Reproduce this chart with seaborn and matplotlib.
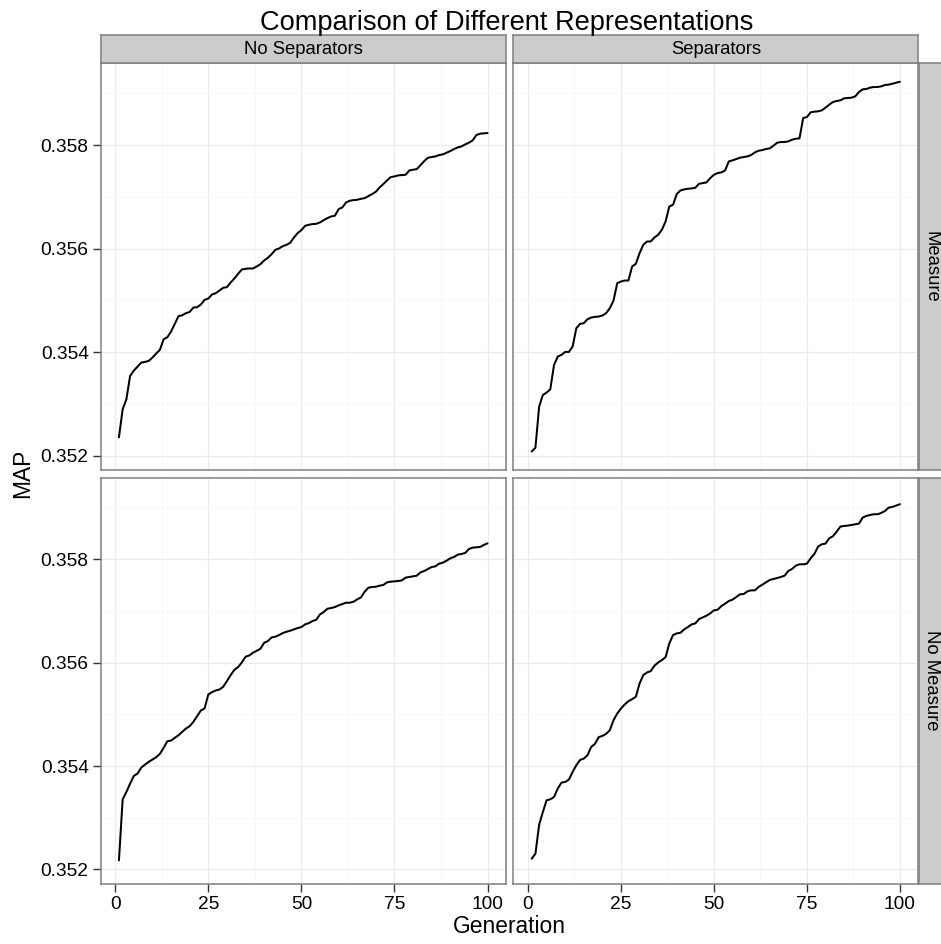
import numpy as np
import pandas as pd
import seaborn as sns
import matplotlib
matplotlib.use("Agg")
import matplotlib.pyplot as plt

# ---- data -------------------------------------------------------------
generation = list(range(1, 101))

map_noSep_measure = [
    0.352354, 0.352896, 0.353089, 0.353540, 0.353643, 0.353720, 0.353798, 0.353811, 0.353830, 0.353895,
    0.353972, 0.354043, 0.354249, 0.354288, 0.354397, 0.354546, 0.354694, 0.354713, 0.354752, 0.354777,
    0.354861, 0.354868, 0.354919, 0.355010, 0.355035, 0.355113, 0.355138, 0.355190, 0.355242, 0.355255,
    0.355345, 0.355422, 0.355512, 0.355596, 0.355609, 0.355616, 0.355616, 0.355654, 0.355699, 0.355770,
    0.355822, 0.355892, 0.355976, 0.356002, 0.356047, 0.356073, 0.356112, 0.356215, 0.356299, 0.356357,
    0.356440, 0.356460, 0.356473, 0.356479, 0.356505, 0.356550, 0.356589, 0.356621, 0.356634, 0.356763,
    0.356795, 0.356891, 0.356924, 0.356937, 0.356943, 0.356962, 0.356975, 0.357014, 0.357053, 0.357098,
    0.357181, 0.357246, 0.357317, 0.357381, 0.357394, 0.357414, 0.357420, 0.357426, 0.357510, 0.357523,
    0.357536, 0.357613, 0.357691, 0.357755, 0.357768, 0.357781, 0.357807, 0.357820, 0.357852, 0.357884,
    0.357923, 0.357955, 0.357974, 0.358013, 0.358045, 0.358090, 0.358193, 0.358219, 0.358226, 0.358232,
]

map_sep_measure = [
    0.352080, 0.352154, 0.352947, 0.353173, 0.353218, 0.353282, 0.353753, 0.353914, 0.353946, 0.354004,
    0.354004, 0.354107, 0.354462, 0.354546, 0.354558, 0.354636, 0.354668, 0.354681, 0.354687, 0.354707,
    0.354752, 0.354848, 0.354997, 0.355332, 0.355364, 0.355383, 0.355383, 0.355654, 0.355706, 0.355912,
    0.356073, 0.356137, 0.356137, 0.356215, 0.356266, 0.356363, 0.356524, 0.356814, 0.356846, 0.357053,
    0.357123, 0.357143, 0.357156, 0.357162, 0.357175, 0.357252, 0.357265, 0.357278, 0.357362, 0.357426,
    0.357459, 0.357472, 0.357510, 0.357684, 0.357704, 0.357729, 0.357755, 0.357768, 0.357781, 0.357807,
    0.357858, 0.357890, 0.357903, 0.357923, 0.357936, 0.357987, 0.358045, 0.358058, 0.358058, 0.358071,
    0.358103, 0.358122, 0.358129, 0.358522, 0.358541, 0.358632, 0.358645, 0.358651, 0.358670, 0.358722,
    0.358780, 0.358831, 0.358851, 0.358864, 0.358902, 0.358909, 0.358915, 0.358941, 0.359025, 0.359076,
    0.359083, 0.359109, 0.359121, 0.359121, 0.359134, 0.359160, 0.359167, 0.359185, 0.359205, 0.359222,
]

map_noSep_noMeasure = [
    0.352174, 0.353356, 0.353498, 0.353660, 0.353808, 0.353854, 0.353970, 0.354028, 0.354080, 0.354125,
    0.354170, 0.354235, 0.354351, 0.354480, 0.354493, 0.354545, 0.354596, 0.354661, 0.354726, 0.354771,
    0.354855, 0.354965, 0.355074, 0.355113, 0.355384, 0.355430, 0.355462, 0.355481, 0.355533, 0.355643,
    0.355759, 0.355862, 0.355914, 0.356004, 0.356114, 0.356140, 0.356192, 0.356230, 0.356269, 0.356385,
    0.356418, 0.356489, 0.356502, 0.356534, 0.356573, 0.356598, 0.356618, 0.356644, 0.356670, 0.356689,
    0.356741, 0.356766, 0.356805, 0.356831, 0.356934, 0.356980, 0.357044, 0.357057, 0.357076, 0.357109,
    0.357135, 0.357160, 0.357160, 0.357180, 0.357225, 0.357264, 0.357374, 0.357451, 0.357464, 0.357470,
    0.357490, 0.357503, 0.357554, 0.357567, 0.357574, 0.357580, 0.357593, 0.357645, 0.357658, 0.357671,
    0.357684, 0.357748, 0.357774, 0.357813, 0.357851, 0.357864, 0.357916, 0.357935, 0.357974, 0.358019,
    0.358045, 0.358090, 0.358103, 0.358123, 0.358200, 0.358226, 0.358232, 0.358239, 0.358278, 0.358310,
]

map_sep_noMeasure = [
    0.352207, 0.352304, 0.352865, 0.353111, 0.353337, 0.353356, 0.353401, 0.353563, 0.353679, 0.353692,
    0.353737, 0.353886, 0.354015, 0.354118, 0.354144, 0.354209, 0.354370, 0.354428, 0.354558, 0.354583,
    0.354622, 0.354693, 0.354887, 0.355016, 0.355113, 0.355191, 0.355255, 0.355294, 0.355339, 0.355597,
    0.355759, 0.355811, 0.355836, 0.355940, 0.356004, 0.356050, 0.356108, 0.356372, 0.356534, 0.356566,
    0.356579, 0.356644, 0.356689, 0.356741, 0.356760, 0.356844, 0.356876, 0.356909, 0.356954, 0.357012,
    0.357025, 0.357096, 0.357141, 0.357193, 0.357219, 0.357270, 0.357322, 0.357328, 0.357380, 0.357399,
    0.357399, 0.357464, 0.357509, 0.357554, 0.357600, 0.357619, 0.357638, 0.357658, 0.357684, 0.357774,
    0.357813, 0.357877, 0.357903, 0.357903, 0.357916, 0.358019, 0.358103, 0.358245, 0.358291, 0.358304,
    0.358407, 0.358446, 0.358536, 0.358633, 0.358646, 0.358652, 0.358665, 0.358678, 0.358691, 0.358807,
    0.358840, 0.358859, 0.358872, 0.358872, 0.358898, 0.358936, 0.359001, 0.359014, 0.359040, 0.359066,
]

col_labels = ["No Separators", "Separators"]
row_labels = ["Measure", "No Measure"]
x_ticks = [0, 25, 50, 75, 100]
y_ticks = [0.352, 0.354, 0.356, 0.358]

series = {
    ("Measure", "No Separators"): map_noSep_measure,
    ("Measure", "Separators"): map_sep_measure,
    ("No Measure", "No Separators"): map_noSep_noMeasure,
    ("No Measure", "Separators"): map_sep_noMeasure,
}

df = pd.concat(
    [pd.DataFrame({"Generation": generation, "MAP": vals,
                   "Measure": r, "Representation": c})
     for (r, c), vals in series.items()],
    ignore_index=True,
)

# ---- theme ------------------------------------------------------------
sns.set_theme(style="white")
plt.rcParams["font.family"] = ["Liberation Sans", "DejaVu Sans"]

W, H = 941, 944
fig = plt.figure(figsize=(W / 100, H / 100), dpi=100)
fig.patch.set_facecolor("white")

BORDER = "#7F7F7F"
STRIP = "#CCCCCC"


def box(x0, y0, x1, y1):
    """Pixel box (top-left origin) -> figure fraction rect."""
    return [x0 / W, 1 - y1 / H, (x1 - x0) / W, (y1 - y0) / H]


col_x = [(100.5, 506.0), (513.3, 918.3)]
row_y = [(63.3, 470.0), (477.7, 883.7)]

# shared scales with 5% expansion
xmin, xmax = min(generation), max(generation)
xpad = 0.05 * (xmax - xmin)
ymin, ymax = df["MAP"].min(), df["MAP"].max()
ypad = 0.05 * (ymax - ymin)


def strip_axes(rect):
    sax = fig.add_axes(rect)
    sax.set_xticks([]); sax.set_yticks([])
    sax.set_facecolor(STRIP)
    for s in sax.spines.values():
        s.set_color(BORDER); s.set_linewidth(1.1)
    return sax


for i, r in enumerate(row_labels):
    for j, c in enumerate(col_labels):
        x0, x1 = col_x[j]
        y0, y1 = row_y[i]
        ax = fig.add_axes(box(x0, y0, x1, y1))
        sub = df[(df["Measure"] == r) & (df["Representation"] == c)]
        ax.set_axisbelow(True)
        sns.lineplot(data=sub, x="Generation", y="MAP", ax=ax,
                     color="black", linewidth=1.45, legend=False)
        ax.set_xlim(xmin - xpad, xmax + xpad)
        ax.set_ylim(ymin - ypad, ymax + ypad)
        ax.set_xticks(x_ticks)
        ax.set_yticks(y_ticks)
        ax.set_xticks([12.5, 37.5, 62.5, 87.5], minor=True)
        ax.set_yticks([0.353, 0.355, 0.357, 0.359], minor=True)
        ax.grid(True, which="major", color="#EBEBEB", linewidth=0.9)
        ax.grid(True, which="minor", color="#F7F7F7", linewidth=0.7)
        for s in ax.spines.values():
            s.set_color(BORDER)
            s.set_linewidth(1.1)
        ax.set_xlabel("")
        ax.set_ylabel("")
        ax.tick_params(which="minor", length=0)
        ax.tick_params(which="major", length=5.5, width=1.0, color="#333333",
                       labelsize=13.8, labelcolor="black", pad=3)
        ax.tick_params(axis="x", bottom=(i == 1), labelbottom=(i == 1))
        ax.tick_params(axis="y", left=(j == 0), labelleft=(j == 0))
        if j == 0:
            ax.set_yticklabels([f"{v:.3f}" for v in y_ticks])

        # column strips on top
        if i == 0:
            sax = strip_axes(box(x0, 35.0, x1, y0))
            sax.text(0.5, 0.5, c, ha="center", va="center",
                     fontsize=13.3, color="black", transform=sax.transAxes)
        # row strips on the right (run past the figure edge)
        if j == 1:
            strip_axes(box(919.3, y0, 946.0, y1))
            fig.text(931.5 / W, 1 - (y0 + y1) / 2 / H, r, ha="center",
                     va="center", rotation=-90, fontsize=13.3, color="black")

# titles and axis labels
fig.text(507 / W, 1 - 30 / H, "Comparison of Different Representations",
         ha="center", va="baseline", fontsize=19.6, color="black")
fig.text(509 / W, 1 - 933 / H, "Generation", ha="center", va="baseline",
         fontsize=16.4, color="black")
fig.text(23 / W, 1 - 473.5 / H, "MAP", ha="center", va="center",
         rotation=90, fontsize=16.4, color="black")

fig.savefig("out.png", dpi=100, facecolor="white")
